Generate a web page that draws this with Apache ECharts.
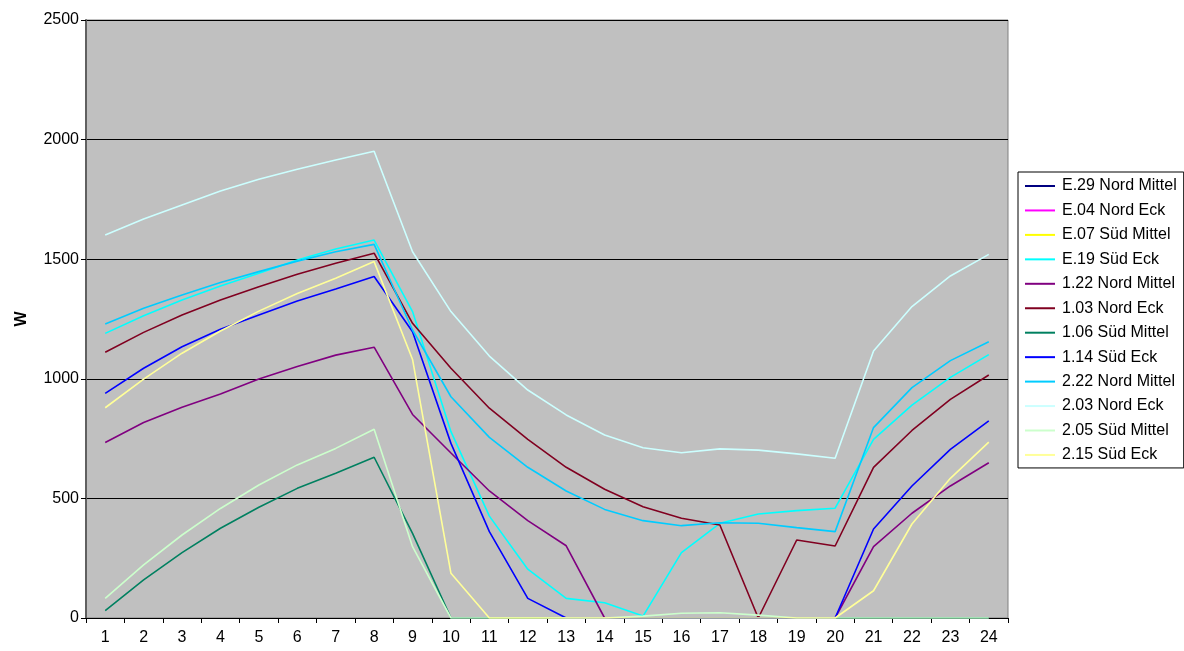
<!DOCTYPE html>
<html>
<head>
<meta charset="utf-8">
<title>W</title>
<script src="https://cdn.jsdelivr.net/npm/echarts@6/dist/echarts.min.js"></script>
<style>
  html, body { margin: 0; padding: 0; background: #ffffff; }
  #chart { width: 1184px; height: 651px; }
</style>
</head>
<body>
<div id="chart"></div>
<script>
// Hours 1..24 on the category axis
const hours = ['1','2','3','4','5','6','7','8','9','10','11','12','13','14','15','16','17','18','19','20','21','22','23','24'];
const yTicks = [0, 500, 1000, 1500, 2000, 2500];

// Series values in W (E.xx rooms carry no values)
const e29NordMittel = [null,null,null,null,null,null,null,null,null,null,null,null,null,null,null,null,null,null,null,null,null,null,null,null];
const e04NordEck    = [null,null,null,null,null,null,null,null,null,null,null,null,null,null,null,null,null,null,null,null,null,null,null,null];
const e07SuedMittel = [null,null,null,null,null,null,null,null,null,null,null,null,null,null,null,null,null,null,null,null,null,null,null,null];
const e19SuedEck    = [1190,1264,1329,1388,1441,1497,1543,1580,1281,779,426,204,82,64,8,273,396,435,449,459,747,890,1006,1101];
const r122NordMittel = [734,817,881,936,999,1051,1099,1132,851,690,531,407,302,0,0,0,0,0,0,0,298,438,552,649];
const r103NordEck    = [1111,1194,1267,1329,1385,1437,1483,1525,1232,1044,877,747,630,538,465,417,389,0,326,301,630,784,914,1016];
const r106SuedMittel = [31,159,273,375,463,542,605,672,354,0,0,0,0,0,0,0,0,0,0,0,0,0,0,0];
const r114SuedEck    = [939,1044,1134,1207,1267,1325,1375,1428,1197,730,361,82,0,0,0,0,0,0,0,0,372,552,705,824];
const r222NordMittel = [1229,1295,1350,1403,1448,1492,1531,1562,1204,925,755,630,531,454,407,386,398,396,378,361,796,963,1076,1155];
const r203NordEck    = [1601,1668,1727,1785,1834,1876,1915,1951,1531,1281,1095,953,849,765,712,691,707,702,686,668,1116,1302,1430,1520];
const r205SuedMittel = [82,222,347,458,556,640,709,789,298,0,0,0,0,0,8,20,22,12,0,0,0,0,0,0];
const r215SuedEck    = [879,999,1107,1200,1283,1357,1420,1490,1081,187,0,0,0,0,0,0,0,0,0,0,114,393,584,735];

const seriesDefs = [
  { name: 'E.29 Nord Mittel', data: e29NordMittel,  color: '#000080' },
  { name: 'E.04 Nord Eck',    data: e04NordEck,     color: '#FF00FF' },
  { name: 'E.07 Süd Mittel',  data: e07SuedMittel,  color: '#FFFF00' },
  { name: 'E.19 Süd Eck',     data: e19SuedEck,     color: '#00FFFF' },
  { name: '1.22 Nord Mittel', data: r122NordMittel, color: '#800080' },
  { name: '1.03 Nord Eck',    data: r103NordEck,    color: '#800020' },
  { name: '1.06 Süd Mittel',  data: r106SuedMittel, color: '#008060' },
  { name: '1.14 Süd Eck',     data: r114SuedEck,    color: '#0000FF' },
  { name: '2.22 Nord Mittel', data: r222NordMittel, color: '#00CCFF' },
  { name: '2.03 Nord Eck',    data: r203NordEck,    color: '#CCFFFF' },
  { name: '2.05 Süd Mittel',  data: r205SuedMittel, color: '#CCFFCC' },
  { name: '2.15 Süd Eck',     data: r215SuedEck,    color: '#FFFF99' }
];

const font = 'Arial, "Liberation Sans", sans-serif';
const chart = echarts.init(document.getElementById('chart'), null, { renderer: 'canvas' });

chart.setOption({
  animation: false,
  backgroundColor: '#ffffff',
  textStyle: { fontFamily: font },
  grid: {
    left: 86, right: 176, top: 20, bottom: 33,
    show: true,
    backgroundColor: '#C0C0C0',
    borderColor: '#808080',
    borderWidth: 1
  },
  legend: {
    orient: 'vertical',
    left: 1018,
    top: 172,
    padding: [6, 7, 5, 7],
    borderColor: '#000000',
    borderWidth: 1,
    backgroundColor: '#ffffff',
    itemWidth: 30,
    itemHeight: 2,
    itemGap: 8.45,
    icon: 'rect',
    textStyle: { fontSize: 16, color: '#000000', fontFamily: font, lineHeight: 16, padding: [0, 0, 0, 2] },
    data: seriesDefs.map(s => s.name)
  },
  xAxis: {
    type: 'category',
    data: hours,
    boundaryGap: true,
    axisLine: { show: true, lineStyle: { color: '#000000', width: 1 } },
    axisTick: { show: true, inside: false, length: 5, lineStyle: { color: '#000000' } },
    axisLabel: { fontSize: 16, color: '#000000', margin: 12, fontFamily: font },
    splitLine: { show: false }
  },
  yAxis: {
    type: 'value',
    min: yTicks[0],
    max: yTicks[yTicks.length - 1],
    interval: yTicks[1] - yTicks[0],
    name: 'W',
    nameLocation: 'middle',
    nameGap: 56,
    nameTextStyle: { fontSize: 16, fontWeight: 'bold', color: '#000000', fontFamily: font },
    axisLine: { show: true, lineStyle: { color: '#606060', width: 2 } },
    axisTick: { show: true, inside: false, length: 5, lineStyle: { color: '#000000' } },
    axisLabel: { fontSize: 16, color: '#000000', margin: 7, fontFamily: font, formatter: v => String(v) },
    splitLine: { show: true, lineStyle: { color: '#000000', width: 1 } }
  },
  series: seriesDefs.map(s => ({
    name: s.name,
    type: 'line',
    data: s.data,
    symbol: 'none',
    showSymbol: false,
    connectNulls: false,
    color: s.color,
    lineStyle: { color: s.color, width: 1.6 },
    emphasis: { disabled: true }
  }))
});
</script>
</body>
</html>
